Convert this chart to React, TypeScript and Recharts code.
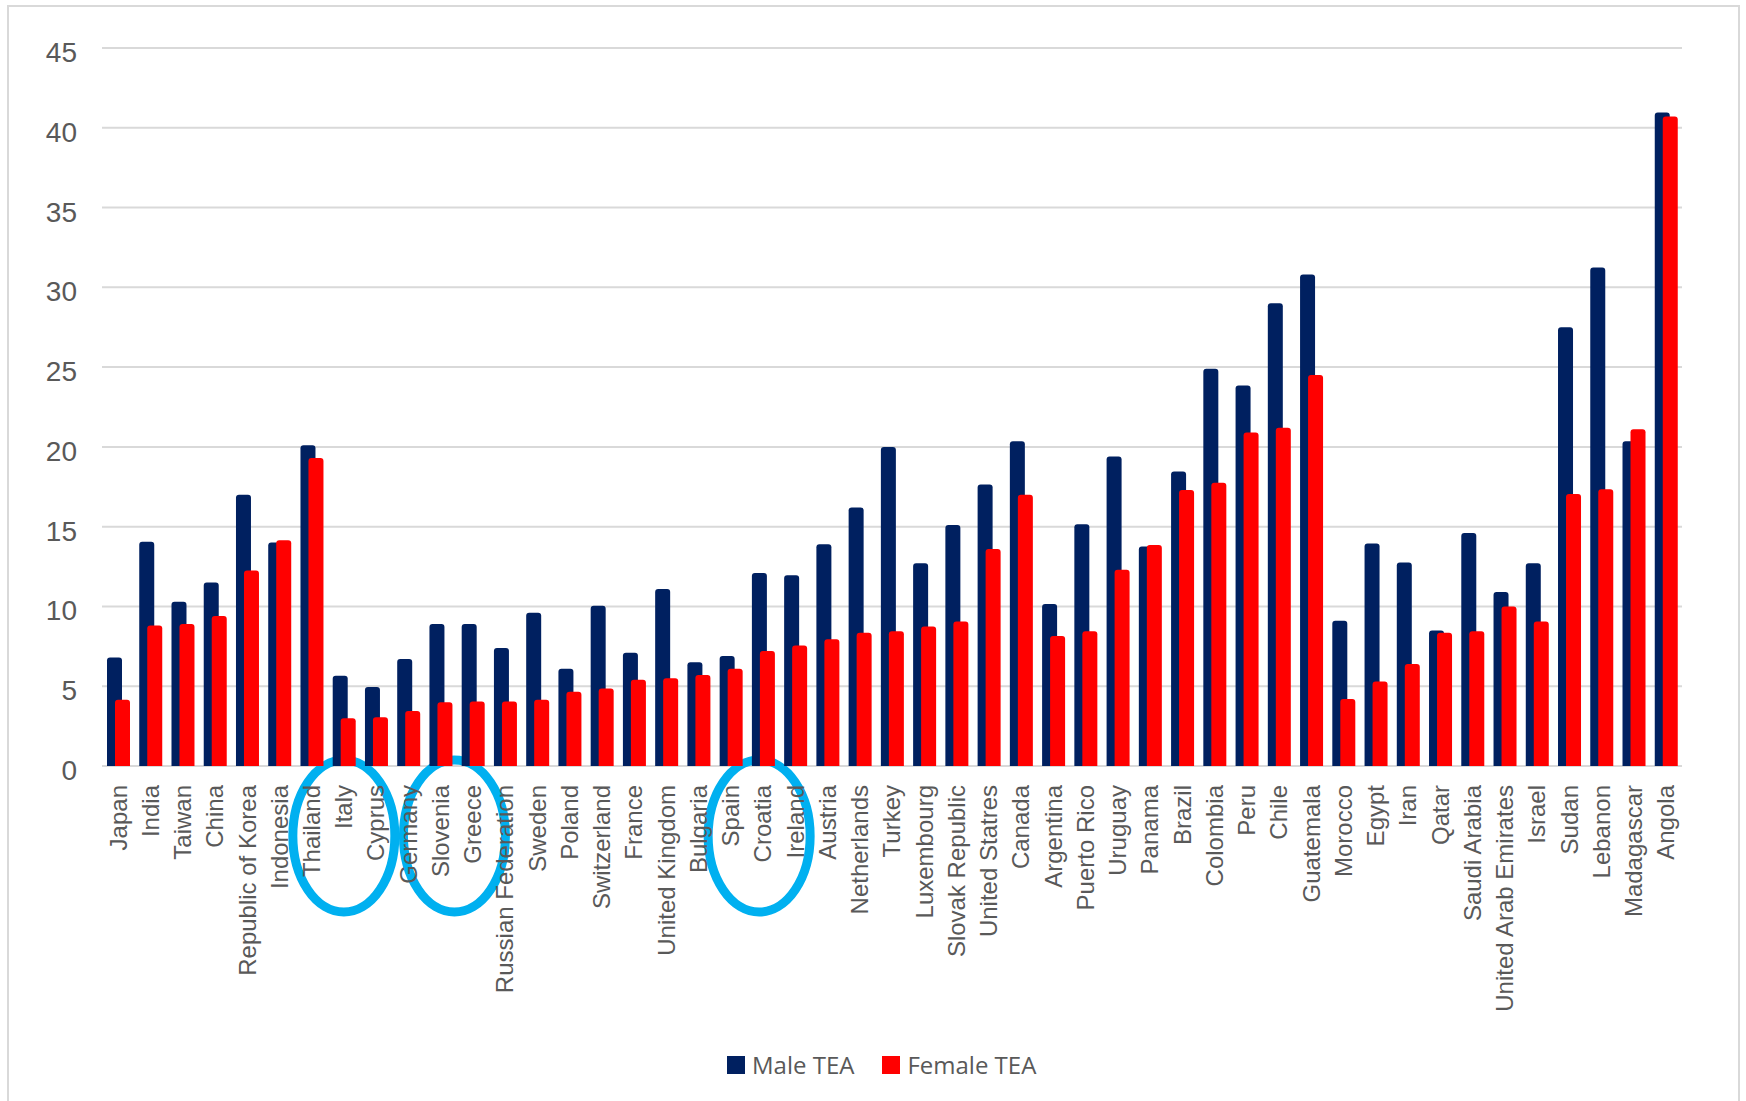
import { BarChart, Bar, XAxis, YAxis, CartesianGrid, ReferenceArea } from "recharts";

const countries = [
  "Japan", "India", "Taiwan", "China", "Republic of Korea", "Indonesia", "Thailand",
  "Italy", "Cyprus", "Germany", "Slovenia", "Greece", "Russian Federation", "Sweden",
  "Poland", "Switzerland", "France", "United Kingdom", "Bulgaria", "Spain", "Croatia",
  "Ireland", "Austria", "Netherlands", "Turkey", "Luxembourg", "Slovak Republic",
  "United Statres", "Canada", "Argentina", "Puerto Rico", "Uruguay", "Panama", "Brazil",
  "Colombia", "Peru", "Chile", "Guatemala", "Morocco", "Egypt", "Iran", "Qatar",
  "Saudi Arabia", "United Arab Emirates", "Israel", "Sudan", "Lebanon", "Madagascar", "Angola",
];

const maleTea = [
  6.8, 14.05, 10.3, 11.5, 17.0, 14.0, 20.1,
  5.65, 4.95, 6.7, 8.9, 8.9, 7.4, 9.6,
  6.1, 10.05, 7.1, 11.1, 6.5, 6.9, 12.1,
  11.95, 13.9, 16.2, 20.0, 12.7, 15.1,
  17.65, 20.35, 10.15, 15.15, 19.4, 13.75, 18.45,
  24.9, 23.85, 29.0, 30.8, 9.1, 13.95, 12.75, 8.5,
  14.6, 10.9, 12.7, 27.5, 31.25, 20.35, 40.95,
];

const femaleTea = [
  4.15, 8.8, 8.9, 9.4, 12.25, 14.15, 19.3,
  3.0, 3.05, 3.45, 4.0, 4.05, 4.05, 4.15,
  4.65, 4.85, 5.4, 5.5, 5.7, 6.1, 7.2,
  7.55, 7.95, 8.35, 8.45, 8.75, 9.05,
  13.6, 17.0, 8.15, 8.45, 12.3, 13.85, 17.3,
  17.75, 20.9, 21.2, 24.5, 4.2, 5.3, 6.4, 8.35,
  8.45, 10.0, 9.05, 17.05, 17.35, 21.1, 40.7,
];

const yTicks = [0, 5, 10, 15, 20, 25, 30, 35, 40, 45];

const series = [
  { key: "male", name: "Male TEA", color: "#002060" },
  { key: "female", name: "Female TEA", color: "#FF0000" },
];

// hand-drawn rings in the original, anchored on a country (shift in category widths)
const circled = [
  { anchor: "Italy", shift: 0 },
  { anchor: "Slovenia", shift: 0.43 },
  { anchor: "Croatia", shift: -0.12 },
];

const rows = countries.map((country, i) => ({
  country,
  male: maleTea[i],
  female: femaleTea[i],
}));

const textColor = "#595959";
const axisFont = "'Liberation Sans', Arial, sans-serif";

function CountryTick({ x, y, payload }: { x?: number; y?: number; payload?: { value: string } }) {
  return (
    <text
      x={0}
      y={0}
      transform={`translate(${x},${y}) rotate(-90)`}
      textAnchor="end"
      dy="0.35em"
      fill={textColor}
      fontSize={24}
      fontFamily={axisFont}
    >
      {payload?.value}
    </text>
  );
}

function ValueTick({ x, y, payload }: { x?: number; y?: number; payload?: { value: number } }) {
  return (
    <text x={x} y={y} dy={14} textAnchor="end" fill={textColor} fontSize={28} fontFamily={axisFont}>
      {payload?.value}
    </text>
  );
}

const ring = (shift: number) => (props: any) => {
  const { x, y, width, height } = props;
  return (
    <ellipse
      cx={x + width * (0.5 + shift)}
      cy={y + height + 70}
      rx={51}
      ry={76}
      fill="none"
      stroke="#00B0F0"
      strokeWidth={9}
    />
  );
};

export default function App() {
  return (
    <div style={{ position: "absolute", left: 0, top: 0, width: 1746, height: 1101, background: "#fff", overflow: "hidden" }}>
      <div
        style={{
          position: "absolute",
          left: 7,
          top: 5,
          width: 1729,
          height: 1110,
          border: "2px solid #D9D9D9",
        }}
      />
      <BarChart
        width={1746}
        height={1101}
        data={rows}
        margin={{ top: 48, right: 64, left: 0, bottom: 0 }}
        barSize={15}
        barGap={-7}
      >
        <CartesianGrid vertical={false} stroke="#D9D9D9" strokeWidth={2} />
        <XAxis
          dataKey="country"
          interval={0}
          height={335}
          tickLine={false}
          axisLine={false}
          tickSize={0}
          tickMargin={19}
          tick={<CountryTick />}
        />
        <YAxis
          domain={[0, 45]}
          ticks={yTicks}
          width={102}
          tickLine={false}
          axisLine={false}
          tickSize={0}
          tickMargin={25}
          tick={<ValueTick />}
        />
        {series.map((s) => (
          <Bar
            key={s.key}
            dataKey={s.key}
            name={s.name}
            fill={s.color}
            radius={[3, 3, 0, 0]}
            isAnimationActive={false}
          />
        ))}
        {circled.map((c) => (
          <ReferenceArea key={c.anchor} x1={c.anchor} x2={c.anchor} shape={ring(c.shift)} />
        ))}
      </BarChart>
      <div
        style={{
          position: "absolute",
          left: 727,
          top: 1049,
          display: "flex",
          alignItems: "center",
          fontFamily: "'Open Sans', sans-serif",
          fontSize: 24,
          color: textColor,
          lineHeight: "32px",
        }}
      >
        {series.map((s, i) => (
          <div key={s.key} style={{ display: "flex", alignItems: "center", marginRight: i === 0 ? 28 : 0 }}>
            <span style={{ width: 18, height: 18, background: s.color, marginRight: 7, display: "inline-block" }} />
            <span>{s.name}</span>
          </div>
        ))}
      </div>
    </div>
  );
}
